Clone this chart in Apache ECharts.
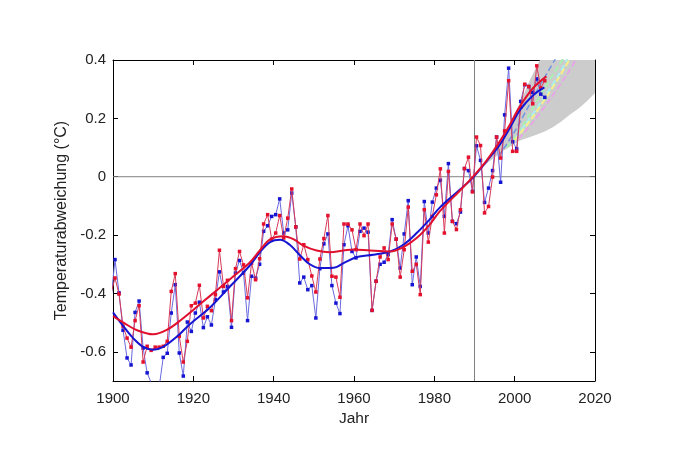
<!DOCTYPE html>
<html><head><meta charset="utf-8">
<script src="https://cdn.jsdelivr.net/npm/echarts@6/dist/echarts.min.js"></script>
<style>html,body{margin:0;padding:0;background:#fff}#c{width:691px;height:459px}</style>
</head><body><div id="c"></div>
<script>
const firstYear = 1899;
const blueAnnual = [-0.42,-0.284,-0.398,-0.526,-0.621,-0.645,-0.465,-0.426,-0.587,-0.672,-0.706,-0.75,-0.72,-0.619,-0.605,-0.467,-0.37,-0.604,-0.683,-0.498,-0.53,-0.467,-0.43,-0.517,-0.48,-0.508,-0.421,-0.326,-0.395,-0.376,-0.516,-0.33,-0.287,-0.33,-0.493,-0.341,-0.347,-0.30,-0.187,-0.168,-0.136,-0.130,-0.076,-0.193,-0.182,-0.056,-0.172,-0.364,-0.344,-0.387,-0.373,-0.484,-0.315,-0.23,-0.196,-0.373,-0.433,-0.469,-0.233,-0.168,-0.256,-0.278,-0.187,-0.176,-0.19,-0.458,-0.358,-0.30,-0.293,-0.267,-0.147,-0.214,-0.313,-0.196,-0.082,-0.37,-0.275,-0.376,-0.085,-0.193,-0.087,-0.039,-0.012,-0.136,0.045,-0.153,-0.161,-0.121,0.028,0.021,-0.05,0.106,0.056,-0.088,-0.039,0.021,0.136,-0.019,0.212,0.372,0.12,0.096,0.258,0.315,0.309,0.289,0.335,0.283,0.272];
const redAnnual = [-0.40,-0.347,-0.402,-0.512,-0.553,-0.584,-0.493,-0.442,-0.635,-0.581,-0.595,-0.584,-0.584,-0.581,-0.564,-0.393,-0.332,-0.547,-0.635,-0.564,-0.442,-0.433,-0.372,-0.484,-0.444,-0.459,-0.404,-0.252,-0.376,-0.355,-0.493,-0.315,-0.256,-0.302,-0.415,-0.296,-0.353,-0.281,-0.162,-0.13,-0.214,-0.193,-0.133,-0.21,-0.142,-0.042,-0.172,-0.282,-0.233,-0.284,-0.34,-0.395,-0.282,-0.212,-0.133,-0.341,-0.344,-0.413,-0.162,-0.162,-0.182,-0.25,-0.162,-0.202,-0.162,-0.458,-0.358,-0.275,-0.244,-0.284,-0.162,-0.214,-0.344,-0.25,-0.104,-0.324,-0.30,-0.404,-0.113,-0.224,-0.136,-0.062,0.027,-0.193,0.018,-0.153,-0.181,-0.113,0.028,0.067,-0.052,0.136,0.107,-0.124,-0.102,-0.001,0.136,0.064,0.157,0.329,0.087,0.087,0.238,0.317,0.309,0.25,0.38,0.304,0.329];
const blueSmooth = [[1900,-0.465],[1903,-0.52],[1905,-0.553],[1907.5,-0.583],[1910,-0.593],[1912.5,-0.583],[1916,-0.547],[1919,-0.507],[1924,-0.45],[1929,-0.378],[1934,-0.305],[1936.6,-0.258],[1939.1,-0.224],[1941.6,-0.216],[1944,-0.233],[1946.6,-0.27],[1949,-0.30],[1951.5,-0.313],[1954.9,-0.312],[1957.4,-0.296],[1960.7,-0.275],[1964.8,-0.267],[1969,-0.256],[1972.3,-0.233],[1975.6,-0.193],[1978.8,-0.147],[1981.4,-0.105],[1986.4,-0.044],[1989.7,-0.002],[1993,0.053],[1996.3,0.11],[1998.8,0.167],[2001.3,0.228],[2004.6,0.279],[2007.4,0.306]];
const redSmooth = [[1900,-0.478],[1902.6,-0.5],[1906,-0.526],[1910,-0.54],[1913.5,-0.524],[1917,-0.49],[1922,-0.433],[1926,-0.387],[1930,-0.341],[1934,-0.295],[1936.6,-0.252],[1939.1,-0.215],[1942.4,-0.204],[1944.9,-0.214],[1947.4,-0.236],[1950.7,-0.253],[1954,-0.259],[1957.4,-0.253],[1959.8,-0.249],[1964,-0.253],[1969,-0.256],[1972.3,-0.241],[1975.6,-0.21],[1978.8,-0.165],[1981.4,-0.118],[1986.4,-0.047],[1989.7,0.001],[1993,0.055],[1996.3,0.121],[1998.8,0.178],[2001.3,0.241],[2004.6,0.304],[2007.9,0.344]];
const bandUpper = [[1990,0.0],[1994,0.07],[1998,0.16],[2001.3,0.252],[2003.8,0.332],[2006.3,0.4],[2008,0.45],[2020,0.8]];
const bandLower = [[1990,0.0],[1993,0.045],[1997,0.087],[2001.3,0.124],[2003.5,0.134],[2005.4,0.144],[2007.5,0.155],[2009.6,0.17],[2011.7,0.19],[2013.7,0.212],[2016,0.235],[2017.9,0.258],[2020,0.287]];
const scenarioBlue = [[1996,0.07],[2000,0.155],[2004,0.255],[2007,0.33],[2010.4,0.41]];
const scenarioGreen = [[1998,0.10],[2002,0.175],[2006,0.27],[2010,0.36],[2012.3,0.41]];
const scenarioCyan = [[1999,0.11],[2003,0.185],[2007,0.265],[2011,0.35],[2013.3,0.41]];
const scenarioYellow = [[2000,0.125],[2004,0.195],[2008,0.275],[2011,0.34],[2014,0.41]];
const scenarioMagenta = [[2001,0.13],[2005,0.195],[2009,0.27],[2013,0.35],[2016,0.42]];
const xTicks = [1900,1920,1940,1960,1980,2000,2020];
const yTicks = [-0.6,-0.4,-0.2,0,0.2,0.4];
const xName = "Jahr";
const yName = "Temperaturabweichung (°C)";
const refYear = 1990;

const font = "'Liberation Sans', Arial, sans-serif";
const toPts = a => a.map((v,i)=>[firstYear+i+0.5,v]);
function annual(data,lineColor,dot,z){return {type:'line',data:toPts(data),clip:true,z,symbol:'rect',symbolSize:3.5,
  lineStyle:{color:lineColor,width:1},itemStyle:{color:dot},animation:false,silent:true};}
function smooth(data,color,z){return {type:'line',data,smooth:0.35,clip:true,z,symbol:'none',lineStyle:{color,width:2},animation:false,silent:true};}
function dashed(data,color,width){return {type:'line',data,smooth:0.3,clip:true,z:3,symbol:'none',lineStyle:{color,width:width||1.5,type:[6,3]},animation:false,silent:true};}
function plain(data){return {type:'line',data,clip:true,z:2,symbol:'none',lineStyle:{color:'#808080',width:1},animation:false,silent:true};}
const axisBase = {splitLine:{show:false},axisLine:{show:true,onZero:false,lineStyle:{color:'#000',width:1}}};
const chart = echarts.init(document.getElementById('c'),null,{renderer:'canvas'});
chart.setOption({
  backgroundColor:'#fff',animation:false,
  grid:{left:113,right:96,top:60,bottom:78,containLabel:false},
  xAxis:[
    {...axisBase,type:'value',min:1900,max:2020,position:'bottom',name:xName,nameLocation:'middle',nameGap:30,
     nameTextStyle:{fontFamily:font,fontSize:15.5,color:'#222'},
     axisTick:{inside:true,length:5,customValues:xTicks,lineStyle:{color:'#000'}},
     axisLabel:{customValues:xTicks,fontFamily:font,fontSize:15,color:'#222',margin:10,formatter:v=>String(v)}},
    {...axisBase,type:'value',min:1900,max:2020,position:'top',
     axisTick:{inside:true,length:5,customValues:xTicks,lineStyle:{color:'#000'}},axisLabel:{show:false}}
  ],
  yAxis:[
    {...axisBase,type:'value',min:-0.7,max:0.4,position:'left',name:yName,nameLocation:'middle',nameGap:42,
     nameTextStyle:{fontFamily:font,fontSize:16,color:'#222'},
     axisTick:{inside:true,length:5,customValues:yTicks,lineStyle:{color:'#000'}},
     axisLabel:{customValues:yTicks,fontFamily:font,fontSize:15,color:'#222',margin:7,formatter:v=>v===0?'0':v.toFixed(1)}},
    {...axisBase,type:'value',min:-0.7,max:0.4,position:'right',
     axisTick:{inside:true,length:5,customValues:yTicks,lineStyle:{color:'#000'}},axisLabel:{show:false}}
  ],
  series:[
    {type:'custom',clip:true,z:1,silent:true,animation:false,data:[0],
     renderItem:(p,api)=>({type:'polygon',shape:{points:bandUpper.concat(bandLower.slice().reverse()).map(d=>api.coord(d))},style:{fill:'#cccccc',stroke:null}})},
    plain([[1900,0],[2020,0]]),
    plain([[refYear,-0.7],[refYear,0.4]]),
    dashed(scenarioGreen,'#a8f0b0',2),
    dashed(scenarioCyan,'#a8f0f0',2),
    dashed(scenarioYellow,'#f6f08c',2),
    dashed(scenarioMagenta,'#ee9cee',1.5),
    dashed(scenarioBlue,'#7095e0',1.5),
    annual(blueAnnual,'#6a6ae0','#1414d2',4),
    annual(redAnnual,'#d83a5a','#e4102c',5),
    smooth(blueSmooth,'#1414d2',6),
    smooth(redSmooth,'#e0102e',7)
  ]
});
</script></body></html>
